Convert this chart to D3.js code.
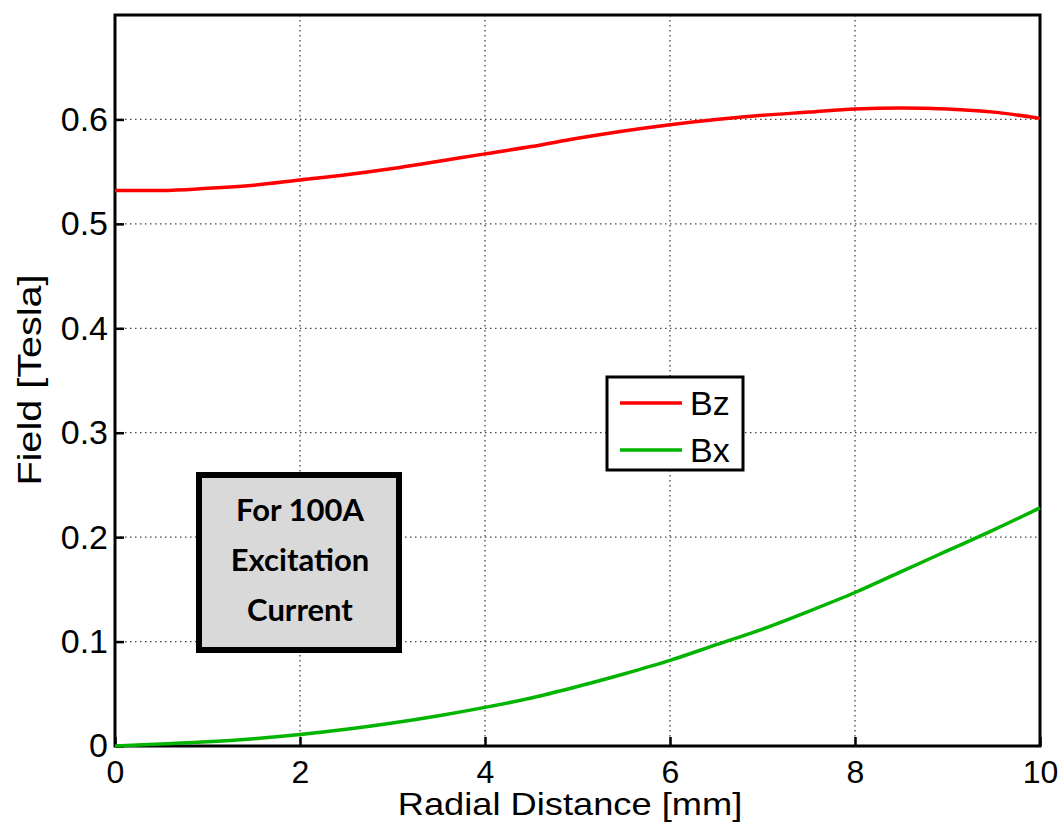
<!DOCTYPE html>
<html>
<head>
<meta charset="utf-8">
<script src="https://cdn.jsdelivr.net/npm/d3@7"></script>
<style>
  body { margin: 0; background: #fff; }
  svg { display: block; }
</style>
</head>
<body>
<svg id="chart"></svg>
<script>
// Data
const radius = [0, 0.5, 1, 1.5, 2, 2.5, 3, 3.5, 4, 4.5, 5, 5.5, 6, 6.5, 7, 7.5, 8, 8.5, 9, 9.5, 10];
const bz = [0.532, 0.532, 0.534, 0.537, 0.542, 0.547, 0.553, 0.560, 0.567, 0.574, 0.582, 0.589, 0.595, 0.600, 0.604, 0.607, 0.610, 0.611, 0.610, 0.607, 0.601];
const bx = [0.000, 0.002, 0.004, 0.007, 0.011, 0.016, 0.022, 0.029, 0.037, 0.046, 0.057, 0.069, 0.082, 0.097, 0.112, 0.129, 0.147, 0.167, 0.187, 0.207, 0.228];
const xTicks = [0, 2, 4, 6, 8, 10];
const yTicks = [0, 0.1, 0.2, 0.3, 0.4, 0.5, 0.6];
const seriesNames = ['Bz', 'Bx'];
const seriesColors = ['#ff0000', '#00b400'];
const noteLines = ['For 100A', 'Excitation', 'Current'];

const W = 1064, H = 833;
const margin = { top: 15, right: 24, bottom: 87, left: 115 };
const width = W - margin.left - margin.right;
const height = H - margin.top - margin.bottom;

const svg = d3.select('#chart').attr('width', W).attr('height', H);
const g = svg.append('g').attr('transform', `translate(${margin.left},${margin.top})`);

const x = d3.scaleLinear().domain([0, 10]).range([0, width]);
const y = d3.scaleLinear().domain([0, 0.7]).range([height, 0]);

// Grid
g.append('g').selectAll('line').data(xTicks.slice(1, -1)).join('line')
  .attr('x1', d => x(d)).attr('x2', d => x(d)).attr('y1', 0).attr('y2', height)
  .attr('stroke', '#444').attr('stroke-width', 1.3).attr('stroke-dasharray', '1.5,3.5');
g.append('g').selectAll('line').data(yTicks.slice(1)).join('line')
  .attr('x1', 0).attr('x2', width).attr('y1', d => y(d)).attr('y2', d => y(d))
  .attr('stroke', '#444').attr('stroke-width', 1.3).attr('stroke-dasharray', '1.5,3.5');

// Axes
const font = '"Liberation Sans", Arial, sans-serif';
const xAxis = g.append('g').attr('transform', `translate(0,${height})`)
  .call(d3.axisBottom(x).tickValues(xTicks).tickSize(-9).tickPadding(14).tickFormat(d3.format('d')));
const yAxis = g.append('g')
  .call(d3.axisLeft(y).tickValues(yTicks).tickSize(-9).tickPadding(7).tickFormat(d => d === 0 ? '0' : d3.format('.1f')(d)));
[xAxis, yAxis].forEach(a => {
  a.select('.domain').remove();
  a.selectAll('line').attr('stroke', '#000').attr('stroke-width', 2.5);
  a.selectAll('text').attr('font-family', font).attr('fill', '#000');
});
xAxis.selectAll('text').attr('font-size', 32).attr('dy', '0.71em');
yAxis.selectAll('text').attr('font-size', 34);

// Frame
g.append('rect').attr('x', 0).attr('y', 0).attr('width', width).attr('height', height)
  .attr('fill', 'none').attr('stroke', '#000').attr('stroke-width', 3);

// Lines
const line = d3.line().x((d, i) => x(radius[i])).y(d => y(d)).curve(d3.curveMonotoneX);
[bz, bx].forEach((s, i) => {
  g.append('path').datum(s).attr('d', line)
    .attr('fill', 'none').attr('stroke', seriesColors[i]).attr('stroke-width', 3.5);
});

// Axis labels (slightly stretched along the text, as in the original)
svg.append('text').attr('transform', 'translate(570,815) scale(1.17,1)')
  .attr('text-anchor', 'middle').attr('font-family', font).attr('font-size', 31)
  .text('Radial Distance [mm]');
svg.append('text').attr('transform', 'translate(41,380) rotate(-90) scale(1.2,1)')
  .attr('text-anchor', 'middle').attr('font-family', font).attr('font-size', 33)
  .text('Field [Tesla]');

// Legend
const leg = svg.append('g').attr('transform', 'translate(607,377)');
leg.append('rect').attr('width', 136).attr('height', 93)
  .attr('fill', '#fff').attr('stroke', '#000').attr('stroke-width', 3);
seriesNames.forEach((n, i) => {
  const ly = 26 + i * 47;
  leg.append('line').attr('x1', 13).attr('x2', 75).attr('y1', ly).attr('y2', ly)
    .attr('stroke', seriesColors[i]).attr('stroke-width', 3.5);
  leg.append('text').attr('x', 83).attr('y', ly).attr('dy', '0.36em')
    .attr('font-family', font).attr('font-size', 34).text(n);
});

// Annotation box
const note = svg.append('g').attr('transform', 'translate(199,475)');
note.append('rect').attr('width', 200).attr('height', 175)
  .attr('fill', '#d9d9d9').attr('stroke', '#000').attr('stroke-width', 6);
noteLines.forEach((t, i) => {
  note.append('text').attr('x', 101).attr('y', 35 + i * 50).attr('dy', '0.36em')
    .attr('text-anchor', 'middle').attr('font-family', 'Lato, sans-serif')
    .attr('font-weight', 'bold').attr('font-size', 31).text(t);
});
</script>
</body>
</html>
